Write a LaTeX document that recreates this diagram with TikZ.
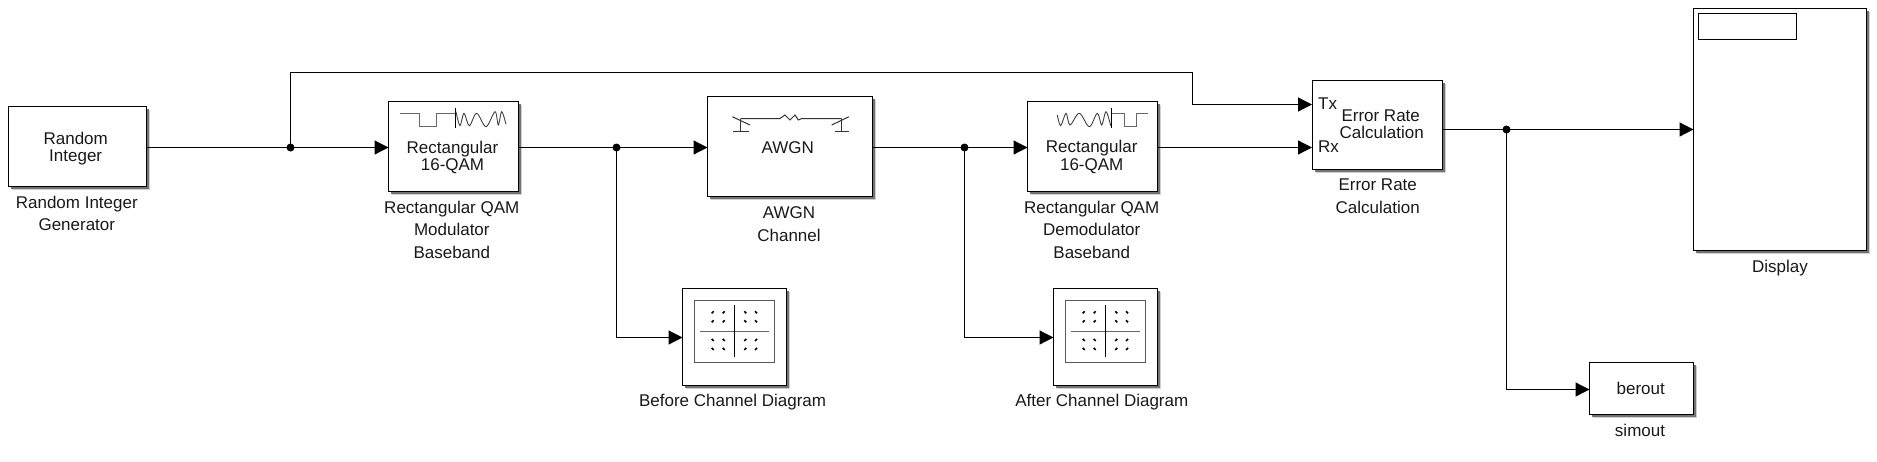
\documentclass[tikz,border=0pt]{standalone}
\usepackage{fontspec}
\setmainfont{Liberation Sans}
\usetikzlibrary{arrows.meta,shadows}
\tikzset{
  x=1pt,y=-1pt,
  blk/.style={draw=black,line width=1.7pt,fill=white,inner sep=0pt,outer sep=0pt,
    general shadow={shadow xshift=3.2pt,shadow yshift=-3.2pt,fill=black!18,draw=none},
    general shadow={shadow xshift=2pt,shadow yshift=-2pt,fill=black!55,draw=none}},
  wire/.style={line width=1.2pt,draw=black},
  sig/.style={wire,-{Triangle[length=14pt,width=14pt]}},
  dotn/.style={circle,fill=black,inner sep=0pt,minimum size=8pt},
  txt/.style={font=\fontsize{17}{20}\selectfont,text=black!90,inner sep=0pt,anchor=base},
  inner/.style={draw=black!65,line width=1.2pt,inner sep=0pt},
  icong/.style={draw=black!60,line width=1pt},
  iconb/.style={draw=black,line width=1pt},
}
\newcommand{\lbl}[4]{\node[txt] (#1) at (#2,{#3+6}) {#4};}
\newcommand{\qamdots}[2]{%
  \begin{scope}[shift={(#1,#2)}]
    \foreach \px/\py in {712.7/312.3,723.7/312.3,712.7/321.3,723.7/321.3,745.3/340,756/340,745.3/349,756/349}
      \draw[black,line width=1.6pt] (\px-1,\py+1) -- (\px+1,\py-1);
    \foreach \px/\py in {745.3/312.3,756/312.3,745.3/321.3,756/321.3,712.7/340,723.7/340,712.7/349,723.7/349}
      \draw[black,line width=1.6pt] (\px-1,\py-1) -- (\px+1,\py+1);
    \draw[icong,line width=1.4pt] (700,331.5) -- (769,331.5);
    \draw[iconb] (734.5,305) -- (734.5,356.7);
  \end{scope}}
\begin{document}
\begin{tikzpicture}
\useasboundingbox (0,0) rectangle (1877,461);
% blocks
\node[blk,minimum width=138pt,minimum height=80pt] (ri) at (77.5,146.5) {};
\node[blk,minimum width=130pt,minimum height=90pt] (mod) at (453.5,146.5) {};
\node[blk,minimum width=165pt,minimum height=100pt] (awgn) at (790,146.5) {};
\node[blk,minimum width=130pt,minimum height=90pt] (dem) at (1092.5,146.5) {};
\node[blk,minimum width=130pt,minimum height=89pt] (er) at (1377.5,125) {};
\node[blk,minimum width=173pt,minimum height=242pt] (disp) at (1780,129.5) {};
\node[blk,minimum width=104pt,minimum height=52pt] (bo) at (1641.5,388.5) {};
\node[blk,minimum width=104pt,minimum height=97pt] (d1) at (734.5,337) {};
\node[blk,minimum width=104pt,minimum height=97pt] (d2) at (1105.5,337) {};
% inner frames
\node[draw=black,line width=1.2pt,inner sep=0pt,minimum width=98pt,minimum height=26pt] (dispin) at (1747.5,26.5) {};
\node[inner,minimum width=80pt,minimum height=62pt] (d1in) at (734.5,331.5) {};
\node[inner,minimum width=80pt,minimum height=62pt] (d2in) at (1105.5,331.5) {};
\qamdots{0}{0}
\qamdots{371}{0}
% junctions
\node[dotn] (j1) at (290.5,147.5) {};
\node[dotn] (j2) at (616.5,147.5) {};
\node[dotn] (j3) at (964.5,147.5) {};
\node[dotn] (j4) at (1506.5,129.5) {};
\coordinate (c1) at (1192.5,72.5);
\coordinate (txin) at (1312,104.5);
\coordinate (rxin) at (1312,147.5);
% connectors
\draw[wire] (ri.east |- j1) -- (j1.center);
\draw[sig] (j1.center) -- (mod.west |- j1);
\draw[sig] (j1.center) |- (c1) |- (txin);
\draw[wire] (mod.east |- j2) -- (j2.center);
\draw[sig] (j2.center) -- (awgn.west |- j2);
\draw[sig] (j2.center) |- (d1.west |- 0,337.5);
\draw[wire] (awgn.east |- j3) -- (j3.center);
\draw[sig] (j3.center) -- (dem.west |- j3);
\draw[sig] (j3.center) |- (d2.west |- 0,337.5);
\draw[sig] (dem.east |- rxin) -- (rxin);
\draw[wire] (er.east |- j4) -- (j4.center);
\draw[sig] (j4.center) -- (disp.west |- j4);
\draw[sig] (j4.center) |- (bo.west |- 0,389.5);
% modulator icon
\draw[icong] (400,113.5) -- (419.5,113.5) -- (419.5,126.5) -- (436.5,126.5) -- (436.5,113.5) -- (455,113.5);
\draw[iconb] (455.5,107.7) -- (455.5,128.3);
\draw[black!75,line width=.9pt] plot[smooth,tension=.55] coordinates {(456,111.7) (460,125.7) (464,113.3) (469.3,125.7) (476.7,113.3) (486,126.7) (495,111.7) (498.3,125) (501.7,111.7) (506,124.3)};
% demodulator icon
\draw[black!75,line width=.9pt] plot[smooth,tension=.55] coordinates {(1057.3,115) (1060.7,125.7) (1066,113.3) (1070,125) (1079.3,113.3) (1089.3,126.7) (1097.3,113.3) (1101.7,125) (1106,111.7) (1110.7,125.7)};
\draw[iconb] (1111.5,107.7) -- (1111.5,128.3);
\draw[icong] (1111.7,113.5) -- (1124.5,113.5) -- (1124.5,126.5) -- (1136.5,126.5) -- (1136.5,113.5) -- (1148.3,113.5);
% AWGN icon
\draw[black!80,line width=1pt] (740.5,118.5) -- (780,118.5) -- (785,115) -- (790,120) -- (795,115) -- (798.3,120) -- (801.7,118.5) -- (841.5,118.5);
\draw[black!80,line width=1pt] (732.3,116.7) -- (750,125);
\draw[black!80,line width=1pt] (740.5,118.5) -- (740.5,131.5);
\draw[black!80,line width=1pt] (733.3,131.5) -- (749.3,131.5);
\draw[black!80,line width=1pt] (849,116.7) -- (831.7,125);
\draw[black!80,line width=1pt] (841.5,118.5) -- (841.5,131.5);
\draw[black!80,line width=1pt] (835,131.5) -- (849,131.5);
% block texts
\lbl{t1}{75.7}{138.7}{Random}
\lbl{t2}{75.7}{155.7}{Integer}
\lbl{t3}{452.5}{147}{Rectangular}
\lbl{t4}{452.5}{164.7}{16-QAM}
\lbl{t5}{787.7}{147.3}{AWGN}
\lbl{t6}{1091.7}{146.7}{Rectangular}
\lbl{t7}{1091.7}{164.7}{16-QAM}
\node[txt,anchor=base west] (tx) at (1318,{103.3+6}) {Tx};
\node[txt,anchor=base west] (rx) at (1318,{146.7+6}) {Rx};
\lbl{t8}{1380.7}{115}{Error Rate}
\lbl{t9}{1381.7}{132.3}{Calculation}
\lbl{t10}{1640.7}{388}{berout}
% labels
\lbl{l1}{76.8}{202.7}{Random Integer}
\lbl{l2}{76.8}{224.3}{Generator}
\lbl{l3}{451.8}{207.3}{Rectangular QAM}
\lbl{l4}{451.8}{229.3}{Modulator}
\lbl{l5}{451.8}{252.3}{Baseband}
\lbl{l6}{789}{212.3}{AWGN}
\lbl{l7}{789}{235}{Channel}
\lbl{l8}{1091.7}{207.3}{Rectangular QAM}
\lbl{l9}{1091.7}{229.7}{Demodulator}
\lbl{l10}{1091.7}{252.3}{Baseband}
\lbl{l11}{1377.7}{184.7}{Error Rate}
\lbl{l12}{1377.7}{207}{Calculation}
\lbl{l13}{732.6}{400.7}{Before Channel Diagram}
\lbl{l14}{1101.8}{400.7}{After Channel Diagram}
\lbl{l15}{1780}{266.7}{Display}
\lbl{l16}{1640}{430.7}{simout}
\end{tikzpicture}
\end{document}
